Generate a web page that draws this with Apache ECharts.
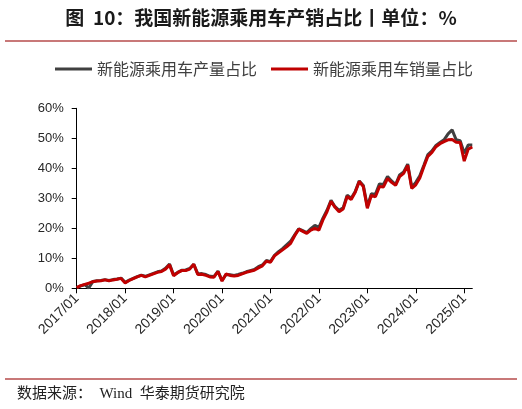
<!DOCTYPE html>
<html>
<head>
<meta charset="utf-8">
<script src="https://cdn.jsdelivr.net/npm/echarts@6/dist/echarts.min.js"></script>
<style>
html,body{margin:0;padding:0;background:#fff;}
#chart{width:522px;height:409px;}
</style>
</head>
<body>
<div id="chart"></div>
<script>
// Categories: monthly 2017/01 .. 2025/03
var startYear = 2017, endYear = 2025, endMonth = 3;
var categories = [];
for (var y = startYear; y <= endYear; y++) {
  for (var m = 1; m <= 12; m++) {
    if (y === endYear && m > endMonth) break;
    categories.push(y + '/' + (m < 10 ? '0' + m : m));
  }
}

var seriesNames = ['新能源乘用车产量占比', '新能源乘用车销量占比'];

// 产量占比 (%)
var production = [
  0.2, 0.8, 1.2, 0.1, 2.3, 2.5, 2.6, 2.9, 2.6, 2.9, 3.1, 3.4,
  2.0, 2.7, 3.3, 3.9, 4.4, 4.0, 4.5, 5.0, 5.5, 5.8, 6.7, 8.1,
  4.4, 5.3, 6.0, 6.1, 6.6, 8.0, 4.8, 4.9, 4.6, 4.0, 3.9, 5.7,
  2.6, 4.6, 4.5, 4.3, 4.6, 5.0, 5.5, 5.9, 6.3, 7.2, 7.8, 9.3,
  8.9, 11.0, 12.2, 13.2, 14.5, 15.7, 17.8, 19.8, 19.2, 18.6, 19.9, 21.0,
  20.3, 23.4, 26.0, 29.3, 27.2, 26.0, 26.8, 31.0, 30.0, 32.3, 35.8, 34.3,
  27.3, 31.5, 31.3, 34.8, 34.6, 37.3, 35.8, 34.6, 37.8, 38.8, 41.4, 33.8,
  35.3, 37.5, 41.0, 44.6, 45.8, 47.6, 48.6, 49.5, 51.5, 52.8, 49.5, 49.2,
  45.0, 47.8, 47.8
];

// 销量占比 (%)
var sales = [
  0.2, 0.9, 1.3, 1.7, 2.2, 2.4, 2.5, 2.8, 2.5, 2.8, 3.0, 3.3,
  1.8, 2.6, 3.2, 3.8, 4.3, 3.8, 4.3, 4.8, 5.3, 5.6, 6.4, 7.8,
  4.2, 5.2, 5.9, 5.9, 6.4, 8.0, 4.6, 4.7, 4.3, 3.8, 3.7, 5.6,
  2.4, 4.8, 4.3, 4.1, 4.3, 4.8, 5.3, 5.7, 6.0, 6.8, 7.5, 9.0,
  8.7, 10.8, 11.8, 12.8, 13.8, 15.0, 17.5, 19.7, 19.0, 18.3, 19.4, 20.0,
  19.4, 22.8, 25.5, 29.0, 27.0, 25.5, 26.4, 30.6, 29.6, 32.0, 35.6, 33.9,
  26.7, 31.0, 30.5, 33.9, 33.8, 36.6, 35.3, 34.3, 37.2, 38.3, 41.0, 33.3,
  34.5, 36.8, 40.5, 44.0, 45.3, 47.2, 48.2, 48.9, 49.5, 49.6, 48.7, 48.6,
  42.4, 46.4, 47.1
];

var yTicks = [0, 10, 20, 30, 40, 50, 60];

var titleText = '图  10：我国新能源乘用车产销占比丨单位：%';
var sourceText = '数据来源：  Wind  华泰期货研究院';

var chart = echarts.init(document.getElementById('chart'), null, {renderer: 'canvas'});
var ruleColor = '#C87878';
var cjk = '"Noto Sans CJK SC", sans-serif';

chart.setOption({
  animation: false,
  backgroundColor: '#fff',
  title: {
    text: titleText,
    left: 'center',
    top: 3,
    textStyle: {fontSize: 19, fontWeight: 'bold', color: '#1a1a1a', fontFamily: cjk}
  },
  legend: {
    left: 55,
    top: 61,
    padding: 0,
    itemWidth: 37,
    itemHeight: 3,
    itemGap: 14,
    icon: 'rect',
    textStyle: {fontSize: 16, color: '#404040', fontFamily: cjk},
    data: seriesNames
  },
  grid: {left: 76.7, right: 49.7, top: 108.3, bottom: 120.7, containLabel: false},
  xAxis: {
    type: 'category',
    data: categories,
    boundaryGap: false,
    axisLine: {lineStyle: {color: '#000', width: 1}},
    axisTick: {interval: 11, length: 5, lineStyle: {color: '#000'}},
    axisLabel: {interval: 11, rotate: 45, fontSize: 14, color: '#262626', margin: 8, fontFamily: 'Liberation Sans, Arial, sans-serif'},
    splitLine: {show: false}
  },
  yAxis: {
    type: 'value',
    min: yTicks[0],
    max: yTicks[yTicks.length - 1],
    interval: 10,
    axisLine: {show: true, lineStyle: {color: '#000', width: 1}},
    axisTick: {show: true, length: 5, lineStyle: {color: '#000'}},
    axisLabel: {formatter: '{value}%', fontSize: 13, color: '#262626', margin: 13, fontFamily: 'Liberation Sans, Arial, sans-serif'},
    splitLine: {show: false}
  },
  series: [
    {
      name: seriesNames[0], type: 'line', data: production, showSymbol: false, symbol: 'none',
      lineStyle: {color: '#404040', width: 3}, itemStyle: {color: '#404040'}
    },
    {
      name: seriesNames[1], type: 'line', data: sales, showSymbol: false, symbol: 'none',
      lineStyle: {color: '#C00000', width: 3}, itemStyle: {color: '#C00000'}
    }
  ],
  graphic: [
    {type: 'line', shape: {x1: 5, y1: 41, x2: 517, y2: 41}, style: {stroke: ruleColor, lineWidth: 2}},
    {type: 'line', shape: {x1: 5, y1: 379, x2: 517, y2: 379}, style: {stroke: ruleColor, lineWidth: 2}},
    {type: 'text', left: 17, top: 387, style: {text: sourceText, font: '15px "Liberation Serif", "Noto Sans CJK SC", serif', fill: '#222'}}
  ]
});
</script>
</body>
</html>
